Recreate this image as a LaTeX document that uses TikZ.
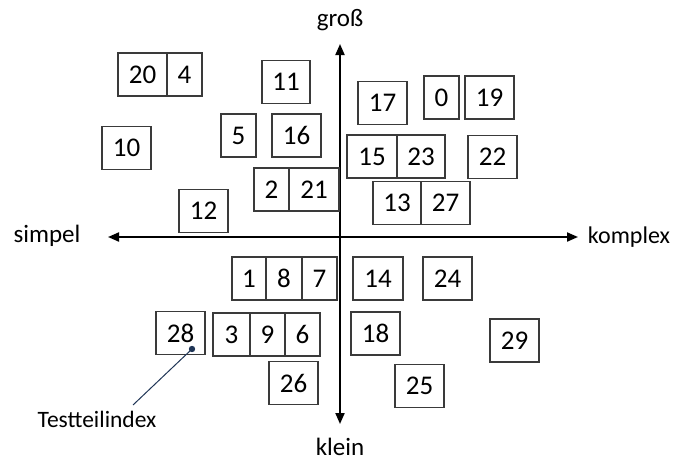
\documentclass[tikz,border=0pt]{standalone}
\usepackage{fontspec}
\setmainfont{Carlito}
\usetikzlibrary{arrows.meta}
\definecolor{boxline}{HTML}{3A3A3A}
\definecolor{navy}{HTML}{1F3556}
\tikzset{
  cell/.style={draw=boxline, line width=1.1pt, minimum height=43pt, inner sep=0pt,
    font=\fontsize{27}{31}\selectfont},
  wide/.style={cell, minimum width=49pt},
  narrow/.style={cell, minimum width=35pt},
  axis/.style={line width=2pt, {Triangle[width=9pt,length=11pt]}-{Triangle[width=9pt,length=11pt]}},
  axlabel/.style={font=\fontsize{25}{29}\selectfont, inner sep=0pt}
}
\begin{document}
\begin{tikzpicture}[x=1pt,y=-1pt]
\useasboundingbox (0,0) rectangle (683,461);

% axes
\coordinate (left) at (108,237);
\coordinate (right) at (578,237);
\coordinate (top) at (340,44);
\coordinate (bottom) at (340,424);
\draw[axis] (left) -- (right);
\draw[axis] (top) -- (bottom);

\node[axlabel] (gross) at (340,20) {groß};
\node[axlabel] (klein) at (340,447) {klein};
\node[axlabel] (simpel) at (47,236) {simpel};
\node[axlabel, font=\fontsize{24}{28}\selectfont] (komplex) at (629,237) {komplex};

% upper left quadrant
\node[wide]   (n20) at (142.5,74.5) {20};
\node[narrow] (n4)  at (184.5,74.5) {4};
\node[cell, minimum width=48pt] (n11) at (286,82) {11};
\node[narrow] (n5)  at (238.5,135.5) {5};
\node[wide]   (n16) at (296.5,135.5) {16};
\node[wide]   (n10) at (126.5,148) {10};
\node[narrow] (n2)  at (271.5,189.5) {2};
\node[cell, minimum width=50pt] (n21) at (314,189.5) {21};
\node[wide]   (n12) at (203.5,211) {12};

% upper right quadrant
\node[wide]   (n17) at (382.5,103) {17};
\node[narrow] (n0)  at (441.5,97.5) {0};
\node[wide]   (n19) at (489.5,97.5) {19};
\node[cell, minimum width=50pt] (n15) at (372,156.5) {15};
\node[cell, minimum width=48pt] (n23) at (421,156.5) {23};
\node[wide]   (n22) at (492.5,157) {22};
\node[cell, minimum width=48pt] (n13) at (397,203) {13};
\node[wide]   (n27) at (445.5,203) {27};

% lower left quadrant
\node[cell, minimum width=34pt] (n1) at (249,278.5) {1};
\node[cell, minimum width=36pt] (n8) at (284,278.5) {8};
\node[narrow] (n7)  at (319.5,278.5) {7};
\node[wide]   (n28) at (180.5,333) {28};
\node[cell, minimum width=37pt] (n3) at (231.5,334.5) {3};
\node[narrow] (n9)  at (267.5,334.5) {9};
\node[narrow] (n6)  at (302.5,334.5) {6};
\node[wide]   (n26) at (293.5,383) {26};

% lower right quadrant
\node[cell, minimum width=50pt] (n14) at (378,278.5) {14};
\node[wide]   (n24) at (447.5,278.5) {24};
\node[wide]   (n18) at (375.5,333.5) {18};
\node[wide]   (n29) at (514.5,340.5) {29};
\node[wide]   (n25) at (419.5,386) {25};

% callout
\node[font=\fontsize{23.5}{27}\selectfont, inner sep=0pt] (idx) at (97,419) {Testteilindex};
\coordinate (dot) at (192,349);
\coordinate (lead) at (133,405);
\draw[navy, line width=1pt] (dot) -- (lead);
\fill[navy] (dot) circle (3.2pt);
\end{tikzpicture}
\end{document}
